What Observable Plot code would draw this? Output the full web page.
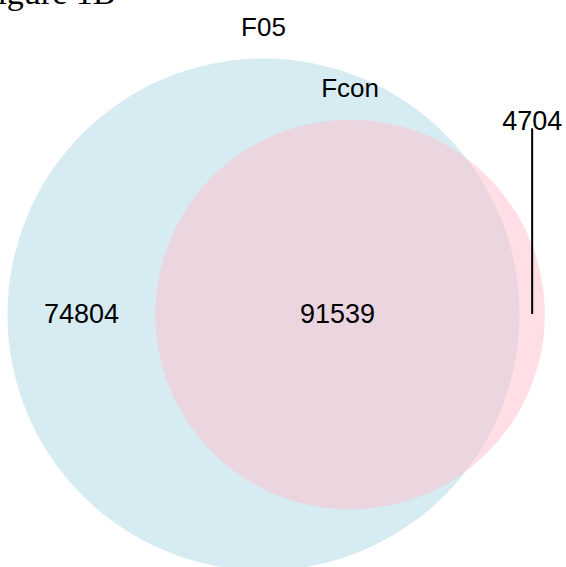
<!DOCTYPE html>
<html><head><meta charset="utf-8">
<script src="https://cdn.jsdelivr.net/npm/d3@7"></script>
<script src="https://cdn.jsdelivr.net/npm/@observablehq/plot@0.6"></script>
<style>html,body{margin:0;padding:0;background:#fff;overflow:hidden} svg{display:block}</style>
</head><body><div id="chart"></div>
<script>
// ---- data ----
const setNames = ["F05", "Fcon"];
const regionLabels = ["F05 only", "F05 ∩ Fcon", "Fcon only"];
const regionCounts = [74804, 91539, 4704];
const setColors = ["lightblue", "pink"];
const figureTitle = "Figure 1B";

// ---- layout constants (pixels) ----
const W = 566, H = 567;
const bigRadiusPx = 256, centerPx = [263, 314];
const catOffsetPx = 31;

// set sizes from region counts
const total1 = regionCounts[0] + regionCounts[1];
const total2 = regionCounts[1] + regionCounts[2];
const r1 = Math.sqrt(total1 / Math.PI);
const r2 = Math.sqrt(total2 / Math.PI);

function lens(d, a, b) {
  if (d >= a + b) return 0;
  if (d <= Math.abs(a - b)) return Math.PI * Math.min(a, b) ** 2;
  const t1 = a * a * Math.acos((d * d + a * a - b * b) / (2 * d * a));
  const t2 = b * b * Math.acos((d * d + b * b - a * a) / (2 * d * b));
  const t3 = 0.5 * Math.sqrt((-d + a + b) * (d + a - b) * (d - a + b) * (d + a + b));
  return t1 + t2 - t3;
}
let lo = Math.abs(r1 - r2), hi = r1 + r2;
for (let i = 0; i < 100; i++) {
  const mid = (lo + hi) / 2;
  if (lens(mid, r1, r2) > regionCounts[1]) lo = mid; else hi = mid;
}
const dist = (lo + hi) / 2;
const k = bigRadiusPx / r1; // px per unit

const circles = [
  {name: setNames[0], x: 0, y: 0, r: r1},
  {name: setNames[1], x: dist, y: 0, r: r2}
];

const inner = [
  {label: String(regionCounts[0]), x: (-r1 + (dist - r2)) / 2, y: 0},
  {label: String(regionCounts[1]), x: ((dist - r2) + r1) / 2, y: 0}
];
const outerX = (r1 + dist + r2) / 2;
const outer = [{label: String(regionCounts[2]), x: outerX, y: r2 - 2 / k}];
const leader = [{x: outerX, y1: 0, y2: r2 - 9 / k}];
const cats = [
  {label: setNames[0], x: 0, y: r1 + catOffsetPx / k},
  {label: setNames[1], x: dist, y: r2 + catOffsetPx / k}
];

const font = "'Liberation Sans', Arial, Helvetica, sans-serif";

const plot = Plot.plot({
  width: W, height: H,
  margin: 0,
  x: {domain: [-centerPx[0] / k, (W - centerPx[0]) / k], axis: null},
  y: {domain: [-(H - centerPx[1]) / k, centerPx[1] / k], axis: null},
  r: {type: "identity"},
  color: {domain: setNames, range: setColors},
  style: {background: "#fff", overflow: "visible"},
  marks: [
    Plot.dot(circles, {x: "x", y: "y", r: d => d.r * k, fill: "name", fillOpacity: 0.5, stroke: "none", sort: null}),
    Plot.ruleX(leader, {x: "x", y1: "y1", y2: "y2", stroke: "black", strokeWidth: 2}),
    Plot.text(inner, {x: "x", y: "y", text: "label", fontSize: 27, fontFamily: font, fill: "black"}),
    Plot.text(outer, {x: "x", y: "y", text: "label", fontSize: 27, fontFamily: font, fill: "black"}),
    Plot.text(cats, {x: "x", y: "y", text: "label", fontSize: 26, fontFamily: font, fill: "black"}),
    Plot.text([figureTitle], {text: d => d, frameAnchor: "top-left", textAnchor: "start", lineAnchor: "bottom", dx: -22, dy: 3, fontSize: 34, fontFamily: "'Liberation Serif', 'Times New Roman', serif", fill: "black"})
  ]
});
document.getElementById("chart").appendChild(plot);
</script>
</body></html>
